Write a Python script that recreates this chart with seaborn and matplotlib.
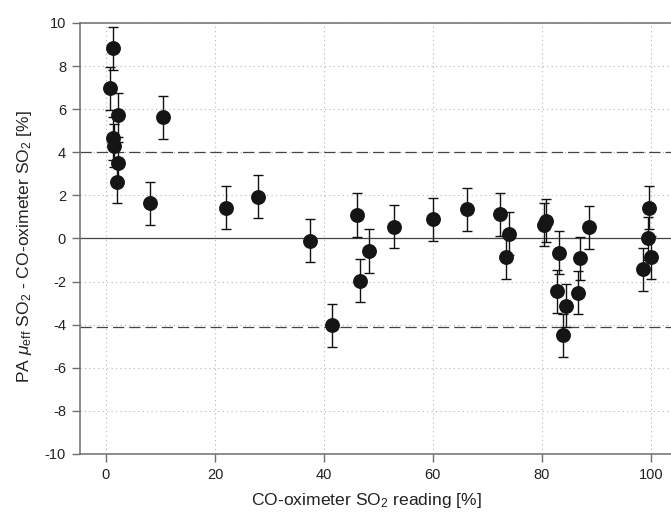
import numpy as np
import pandas as pd
import matplotlib
matplotlib.use("Agg")
import matplotlib.pyplot as plt
import seaborn as sns

# CO-oximeter reading and PA - CO-oximeter difference
co_reading = [1.35, 0.73, 2.26, 1.22, 1.53, 2.26, 2.08, 10.5, 8.07, 21.96, 27.95,
              37.4, 41.4, 46.0, 46.7, 48.3, 52.8, 60.1, 66.2,
              72.3, 73.9, 73.5, 80.4, 80.85, 83.2, 82.7, 84.5, 83.8, 87.0, 86.7,
              88.6, 98.6, 99.6, 99.5, 100.1]
difference = [8.82, 6.97, 5.73, 4.65, 4.31, 3.49, 2.64, 5.62, 1.63, 1.43, 1.94,
              -0.1, -4.03, 1.09, -1.97, -0.58, 0.55, 0.9, 1.35,
              1.12, 0.21, -0.87, 0.63, 0.83, -0.66, -2.44, -3.13, -4.49, -0.92, -2.51,
              0.52, -1.43, 1.43, 0.01, -0.87]
err = [1.0] * len(co_reading)

upper_loa = 4.03
lower_loa = -4.1

df = pd.DataFrame({"co": co_reading, "diff": difference, "err": err})

sns.set_style("white")
plt.rcParams["font.family"] = ["Liberation Sans", "DejaVu Sans"]
plt.rcParams["mathtext.fontset"] = "custom"
plt.rcParams["mathtext.rm"] = "Liberation Sans"
plt.rcParams["mathtext.it"] = "Liberation Sans:italic"
plt.rcParams["axes.unicode_minus"] = False

fig = plt.figure(figsize=(6.71, 5.16), dpi=100)
ax = fig.add_axes([0.1192, 0.1202, 0.8808, 0.8353])

spine_col = "#6e6e6e"
ax.grid(True, color="#b5b5b5", linestyle=(0, (1, 3)), linewidth=0.8)
ax.set_axisbelow(True)

ax.axhline(0, color="#444444", linewidth=0.9, zorder=1)
ax.axhline(upper_loa, color="#444444", linewidth=0.9, dashes=(9, 4), zorder=1)
ax.axhline(lower_loa, color="#444444", linewidth=0.9, dashes=(9, 4), zorder=1)

ax.errorbar(df["co"], df["diff"], yerr=df["err"], fmt="none", ecolor="#111111",
            elinewidth=1.0, capsize=3.8, capthick=1.0, zorder=2)
sns.scatterplot(data=df, x="co", y="diff", ax=ax, color="#151515", s=115,
                edgecolor="#151515", linewidth=0, zorder=3, legend=False)

ax.set_xlim(-4.77, 103.7)
ax.set_ylim(-10, 10)
ax.set_xticks(np.arange(0, 101, 20))
ax.set_yticks(np.arange(-10, 11, 2))

for s in ["left", "bottom", "top"]:
    ax.spines[s].set_color(spine_col)
    ax.spines[s].set_linewidth(1.1)
ax.spines["right"].set_visible(False)

ax.tick_params(axis="both", direction="out", length=6, width=1.0, color=spine_col,
               labelsize=10.5, labelcolor="#222222", left=True, bottom=True, pad=4)

ax.set_xlabel("CO-oximeter SO$_2$ reading [%]", fontsize=12.6, color="#222222")
ax.xaxis.set_label_coords(0.484, -0.085)
ax.set_ylabel("PA $\\mu_{\\rm eff}$ SO$_2$ - CO-oximeter SO$_2$ [%]", fontsize=12.6,
              color="#222222")
ax.yaxis.set_label_coords(-0.077, 0.48)

fig.savefig("out.png", dpi=100)
